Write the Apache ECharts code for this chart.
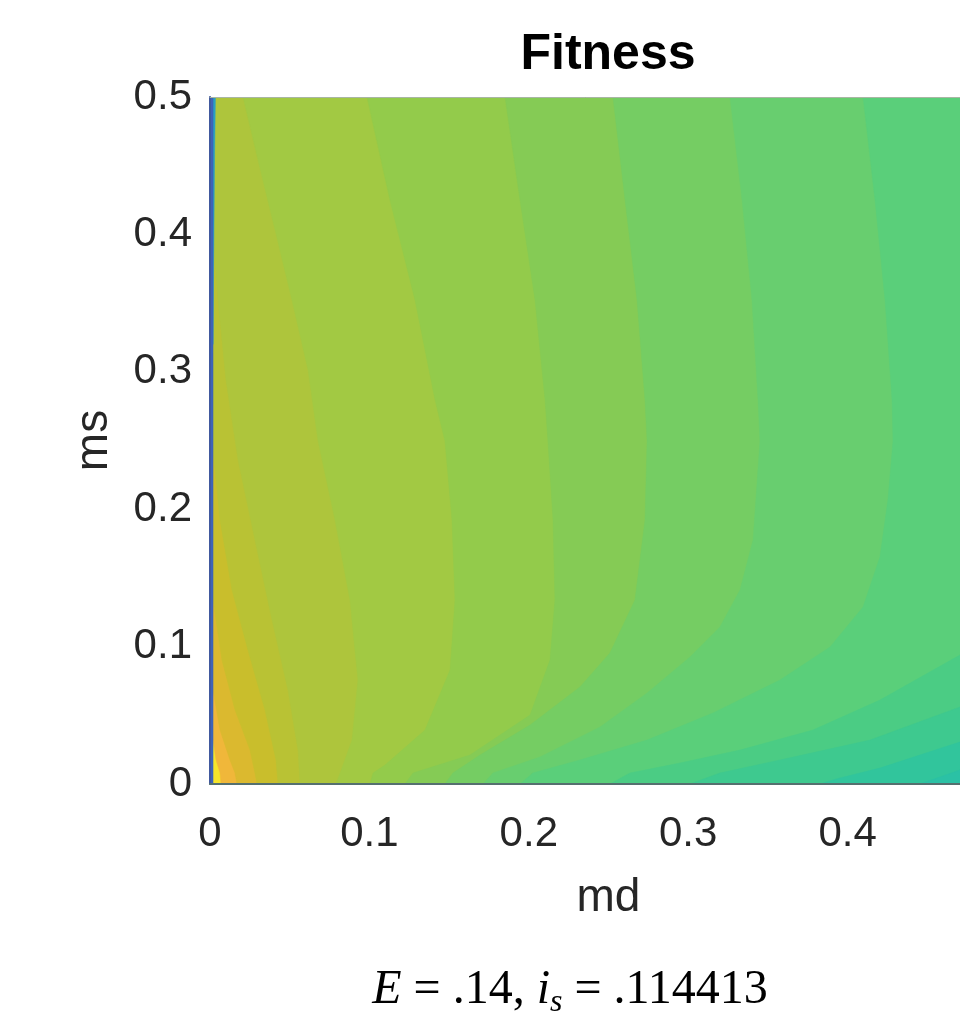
<!DOCTYPE html>
<html>
<head>
<meta charset="utf-8">
<title>Fitness</title>
<script src="https://cdn.jsdelivr.net/npm/echarts@6/dist/echarts.min.js"></script>
<style>
  html, body { margin: 0; padding: 0; background: #fff; }
  #main { width: 960px; height: 1016px; }
</style>
</head>
<body>
<div id="main"></div>
<script>
// axis ranges (md on x, ms on y)
const mdRange = [0, 0.5]
const msRange = [0, 0.5]

// filled contour boundaries, [md, ms] points,
// each one separates a band from the next lower band on its right/below
const contour1 = [[0.0019, 0.0320], [0.0038, 0.0175], [0.0063, 0.0080], [0.0069, 0]]
const contour2 = [[0.0019, 0.0684], [0.0063, 0.0393], [0.0125, 0.0175], [0.0157, 0.0080], [0.0169, 0]]
const contour3 = [[0.0019, 0.1339], [0.0075, 0.0902], [0.0157, 0.0539], [0.0251, 0.0247], [0.0282, 0.0080], [0.0295, 0]]
const contour4 = [[0.0019, 0.2431], [0.0063, 0.1921], [0.0138, 0.1412], [0.0238, 0.0975], [0.0345, 0.0539], [0.0414, 0.0175], [0.0427, 0]]
const contour5 = [[0.0019, 0.4032], [0.0050, 0.3523], [0.0100, 0.2940], [0.0176, 0.2358], [0.0282, 0.1776], [0.0389, 0.1194],
  [0.0489, 0.0684], [0.0552, 0.0247], [0.0565, 0]]
const contour6 = [[0.0207, 0.5], [0.0301, 0.4541], [0.0408, 0.4032], [0.0514, 0.3523], [0.0615, 0.3013], [0.0678, 0.2496],
  [0.0784, 0.1921], [0.0878, 0.1339], [0.0928, 0.0757], [0.0891, 0.0320], [0.0816, 0.0080], [0.0790, 0]]
const contour7 = [[0.0985, 0.5], [0.1129, 0.4250], [0.1286, 0.3523], [0.1412, 0.2795], [0.1474, 0.2496], [0.1518, 0.1921],
  [0.1537, 0.1339], [0.1506, 0.0830], [0.1349, 0.0393], [0.1098, 0.0138], [0.1023, 0.0080], [0.1004, 0]]
const contour8 = [[0.1851, 0.5], [0.1945, 0.4250], [0.2039, 0.3523], [0.2102, 0.2795], [0.2120, 0.2496], [0.2152, 0.1921],
  [0.2164, 0.1339], [0.2133, 0.0902], [0.2008, 0.0502], [0.1631, 0.0211], [0.1274, 0.0080], [0.1223, 0]]
const contour9 = [[0.2528, 0.5], [0.2604, 0.4250], [0.2679, 0.3523], [0.2729, 0.2795], [0.2742, 0.2496], [0.2729, 0.1921],
  [0.2666, 0.1339], [0.2509, 0.0953], [0.2321, 0.0706], [0.2008, 0.0429], [0.1694, 0.0211], [0.1524, 0.0080], [0.1474, 0]]
const contour10 = [[0.3262, 0.5], [0.3338, 0.4250], [0.3400, 0.3523], [0.3438, 0.2795], [0.3450, 0.2496], [0.3407, 0.1776],
  [0.3325, 0.1412], [0.3199, 0.1143], [0.3011, 0.0924], [0.2742, 0.0662], [0.2447, 0.0415], [0.2070, 0.0197],
  [0.1775, 0.0080], [0.1713, 0]]
const contour11 = [[0.4097, 0.5], [0.4172, 0.4250], [0.4235, 0.3523], [0.4279, 0.2795], [0.4285, 0.2496], [0.4253, 0.2067],
  [0.4203, 0.1652], [0.4097, 0.1288], [0.3890, 0.0997], [0.3576, 0.0757], [0.3156, 0.0517], [0.2742, 0.0320],
  [0.2321, 0.0175], [0.2026, 0.0080], [0.1945, 0]]
const contour12 = [[0.5, 0.1339], [0.4705, 0.0939], [0.4203, 0.0611], [0.3783, 0.0393], [0.3325, 0.0247], [0.2949, 0.0153],
  [0.2635, 0.0080], [0.2509, 0]]
const contour13 = [[0.5, 0.0902], [0.4705, 0.0560], [0.4141, 0.0320], [0.3576, 0.0175], [0.3199, 0.0080], [0.3011, 0]]
const contour14 = [[0.5, 0.0539], [0.4705, 0.0306], [0.4203, 0.0116], [0.3952, 0.0044], [0.3827, 0]]
const contour15 = [[0.5, 0.0247], [0.4705, 0.0102], [0.4454, 0]]

// low-fitness strip along md = 0
const edgeTeal = [[0.0019, 0.5], [0.0034, 0.5], [0.0029, 0.46], [0.0023, 0.38], [0.0019, 0.32]]
const edgeBlue = [[0, 0.5], [0.0019, 0.5], [0.0019, 0], [0, 0]]

const contours = [contour1, contour2, contour3, contour4, contour5, contour6, contour7, contour8,
  contour9, contour10, contour11, contour12, contour13, contour14, contour15]

// band fills, highest fitness first
const bandColors = ["#f6e52b", "#f0b73a", "#dbb92f", "#c9be2c", "#b9c234", "#aec53c", "#a2c943", "#93cb4b",
  "#85cb55", "#75cd63", "#68ce6f", "#5acf7a", "#4bcc84", "#3ec98f", "#31c59c", "#2bc1a5"]

const regions = []
regions.push({ pts: [[mdRange[0], msRange[0]], [mdRange[1], msRange[0]], [mdRange[1], msRange[1]], [mdRange[0], msRange[1]]], color: bandColors[0] })
contours.forEach((c, i) => {
  regions.push({
    pts: c.concat([[mdRange[1], msRange[0]], [mdRange[1], msRange[1]], [c[0][0], msRange[1]]]),
    color: bandColors[i + 1],
  })
})
regions.push({ pts: edgeTeal, color: "#2a9fc2" })
regions.push({ pts: edgeBlue, color: "#3e63b8" })

const chart = echarts.init(document.getElementById("main"))
const labelFont = "Liberation Sans"
const option = {
  backgroundColor: "#ffffff",
  animation: false,
  title: {
    text: "Fitness",
    left: 608,
    top: 30,
    padding: 0,
    textAlign: "center",
    textStyle: { fontFamily: labelFont, fontSize: 50, fontWeight: "bold", color: "#000" },
  },
  // the plot runs past the right edge of the picture, as in the cropped original
  grid: { left: 210, top: 97, width: 797, height: 687, containLabel: false, outerBoundsMode: "none" },
  xAxis: [
    {
      type: "value",
      min: mdRange[0],
      max: mdRange[1],
      interval: 0.1,
      name: "md",
      nameLocation: "middle",
      nameGap: 91,
      nameTextStyle: { fontFamily: labelFont, fontSize: 46, color: "#262626" },
      axisLine: { show: true, lineStyle: { color: "#55706f", width: 2 } },
      axisTick: { show: false },
      splitLine: { show: false },
      axisLabel: { margin: 29, fontFamily: labelFont, fontSize: 42, color: "#262626" },
      z: 5,
    },
    {
      type: "value",
      position: "top",
      min: mdRange[0],
      max: mdRange[1],
      axisLine: { show: true, lineStyle: { color: "#a9b6a4", width: 1 } },
      axisTick: { show: false },
      axisLabel: { show: false },
      splitLine: { show: false },
      z: 5,
    },
  ],
  yAxis: {
    type: "value",
    min: msRange[0],
    max: msRange[1],
    interval: 0.1,
    name: "ms",
    nameLocation: "middle",
    nameGap: 93,
    nameTextStyle: { fontFamily: labelFont, fontSize: 46, color: "#262626" },
    axisLine: { show: true, lineStyle: { color: "#41599e", width: 2 } },
    axisTick: { show: false },
    splitLine: { show: false },
    axisLabel: { margin: 18, fontFamily: labelFont, fontSize: 42, color: "#262626" },
    z: 5,
  },
  series: [
    {
      type: "custom",
      coordinateSystem: "cartesian2d",
      clip: true,
      silent: true,
      data: regions.map((r, i) => [r.pts[0][0], r.pts[0][1], i]),
      renderItem: function (params, api) {
        const r = regions[api.value(2)]
        return {
          type: "polygon",
          shape: { points: r.pts.map((p) => api.coord(p)) },
          style: { fill: r.color, stroke: r.color, lineWidth: 0.5 },
        }
      },
    },
  ],
  graphic: [
    {
      type: "text",
      x: 570,
      y: 990,
      silent: true,
      style: {
        text: "{it|E} = .14, {it|i}{sub|s} = .114413",
        align: "center",
        verticalAlign: "middle",
        fontFamily: "Liberation Serif",
        fontSize: 48,
        lineHeight: 58,
        fill: "#000",
        rich: {
          it: { fontFamily: "Liberation Serif", fontStyle: "italic", fontSize: 48, lineHeight: 58, fill: "#000" },
          sub: { fontFamily: "Liberation Serif", fontStyle: "italic", fontSize: 32, lineHeight: 32, verticalAlign: "bottom", fill: "#000" },
        },
      },
    },
  ],
}
chart.setOption(option)
</script>
</body>
</html>
